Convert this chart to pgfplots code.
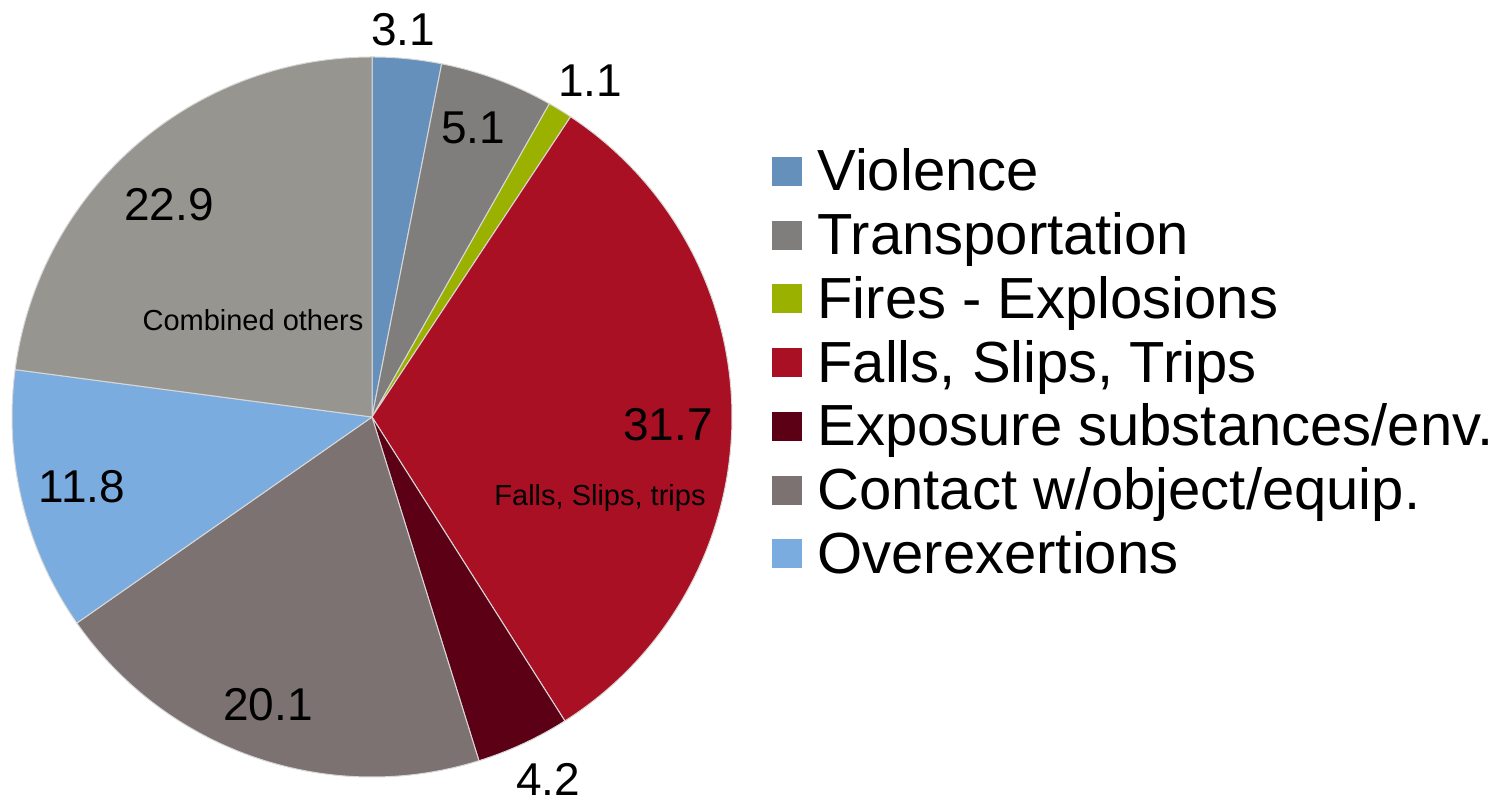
\documentclass[border=0pt]{standalone}
\usepackage{pgfplots}
\usepackage{pgfplotstable}
\pgfplotsset{compat=1.18}
\usepackage{fontspec}
\setmainfont{Liberation Sans}

\definecolor{c0}{RGB}{102,144,188}
\definecolor{c1}{RGB}{127,126,124}
\definecolor{c2}{RGB}{155,177,0}
\definecolor{c3}{RGB}{170,16,36}
\definecolor{c4}{RGB}{92,0,22}
\definecolor{c5}{RGB}{125,114,114}
\definecolor{c6}{RGB}{123,172,223}
\definecolor{c7}{RGB}{151,149,144}
\definecolor{sep}{RGB}{215,215,215}

% value, label position (pixels, measured from top-left)
\pgfplotstableread{
value lx ly
3.1  403 30
5.1  473 128
1.1  590 81
31.7 668 425
4.2  548 779
20.1 268 705
11.8 82  487
22.9 169 205
}\piedata

\begin{document}
\begin{tikzpicture}
\xdef\cumsum{0}
\foreach \i in {0,...,7}{
  \pgfplotstablegetelem{\i}{value}\of\piedata
  \let\myv\pgfplotsretval
  \expandafter\xdef\csname val\i\endcsname{\myv}
  \pgfmathsetmacro\mys{90-3.6*\cumsum}
  \expandafter\xdef\csname sa\i\endcsname{\mys}
  \pgfmathsetmacro\myc{\cumsum+\myv}
  \xdef\cumsum{\myc}
  \pgfmathsetmacro\mye{90-3.6*\cumsum}
  \expandafter\xdef\csname ea\i\endcsname{\mye}
  \pgfplotstablegetelem{\i}{lx}\of\piedata
  \expandafter\xdef\csname lx\i\endcsname{\pgfplotsretval}
  \pgfplotstablegetelem{\i}{ly}\of\piedata
  \pgfmathsetmacro\myy{800-\pgfplotsretval}
  \expandafter\xdef\csname ly\i\endcsname{\myy}
}
\begin{axis}[
  x=0.5pt, y=0.5pt,
  xmin=0, xmax=1510, ymin=0, ymax=800,
  hide axis, clip=false,
]
\path (axis cs:0,0) rectangle (axis cs:1510,800);
\pgfplotsinvokeforeach{0,...,7}{
  \filldraw[fill=c#1, draw=sep, line width=0.5pt, line join=round]
    (axis cs:372,383) -- ++({\csname sa#1\endcsname}:180pt)
    arc[start angle={\csname sa#1\endcsname}, end angle={\csname ea#1\endcsname}, radius=180pt] -- cycle;
}
\pgfplotsinvokeforeach{0,...,7}{
  \node[font=\fontsize{23}{23}\selectfont, inner sep=0pt, anchor=center]
    at (axis cs:{\csname lx#1\endcsname},{\csname ly#1\endcsname}) {\csname val#1\endcsname};
}
\node[font=\fontsize{14.5}{14.5}\selectfont, inner sep=0pt] at (axis cs:253,480) {Combined others};
\node[font=\fontsize{14.5}{14.5}\selectfont, inner sep=0pt] at (axis cs:600,302) {Falls, Slips, trips};

% legend
\def\legfont{\fontsize{29}{29}\selectfont}
\fill[c0] (axis cs:772,643) rectangle (axis cs:802,614);
\node[font=\legfont, inner sep=0pt, anchor=base west] at (axis cs:817,609) {Violence};
\fill[c1] (axis cs:772,579.25) rectangle (axis cs:802,550.25);
\node[font=\legfont, inner sep=0pt, anchor=base west] at (axis cs:817,545.25) {Transportation};
\fill[c2] (axis cs:772,515.5) rectangle (axis cs:802,486.5);
\node[font=\legfont, inner sep=0pt, anchor=base west] at (axis cs:817,481.5) {Fires - Explosions};
\fill[c3] (axis cs:772,451.75) rectangle (axis cs:802,422.75);
\node[font=\legfont, inner sep=0pt, anchor=base west] at (axis cs:817,417.75) {Falls, Slips, Trips};
\fill[c4] (axis cs:772,388) rectangle (axis cs:802,359);
\node[font=\legfont, inner sep=0pt, anchor=base west] at (axis cs:817,354) {Exposure substances/env.};
\fill[c5] (axis cs:772,324.25) rectangle (axis cs:802,295.25);
\node[font=\legfont, inner sep=0pt, anchor=base west] at (axis cs:817,290.25) {Contact w/object/equip.};
\fill[c6] (axis cs:772,260.5) rectangle (axis cs:802,231.5);
\node[font=\legfont, inner sep=0pt, anchor=base west] at (axis cs:817,226.5) {Overexertions};
\end{axis}
\end{tikzpicture}
\end{document}
